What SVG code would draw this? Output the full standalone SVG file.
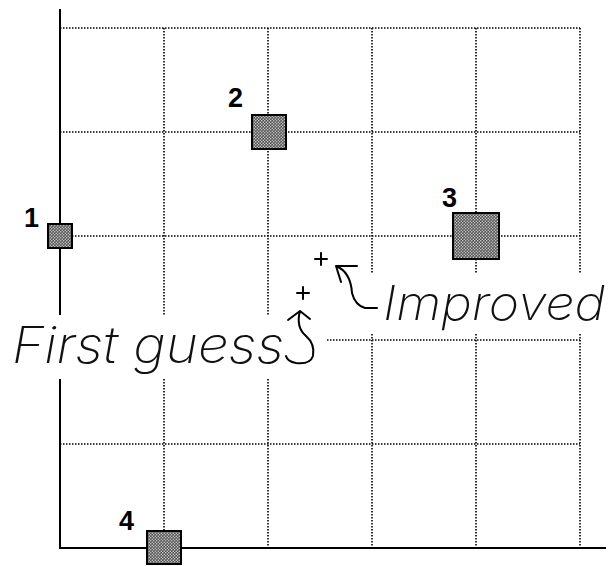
<svg xmlns="http://www.w3.org/2000/svg" width="608" height="566" viewBox="0 0 608 566">
<style>
.grid{stroke:#000;stroke-width:1.6;stroke-dasharray:1.5 1.5;fill:none}
.axis{stroke:#000;stroke-width:2;fill:none}
.pt{fill:url(#dots);stroke:#000;stroke-width:2}
.num{font-family:"Liberation Sans",Arial,sans-serif;font-weight:bold;font-size:27px;fill:#000}
.lbl{font-family:Inter,"Liberation Sans",sans-serif;font-weight:200;font-style:italic;fill:#111}
.arr{stroke:#000;stroke-width:2;fill:none;stroke-linecap:round;stroke-linejoin:round}
.mask{fill:#fff}
</style>
<defs>
<pattern id="dots" width="3" height="3" patternUnits="userSpaceOnUse">
<rect width="3" height="3" fill="#555"/>
<circle cx="0.75" cy="0.75" r="0.7" fill="#ddd"/>
<circle cx="2.25" cy="2.25" r="0.7" fill="#ddd"/>
</pattern>
</defs>
<rect width="608" height="566" fill="#fff"/>
<g id="grid">
<path class="grid" d="M60 28H580M60 132H580M60 236H580M60 340H580M60 444H580"/>
<path class="grid" d="M164 28V548M268 28V548M372 28V548M476 28V548M580 28V548"/>
</g>
<g id="axes">
<path class="axis" d="M60 9V548H606"/>
</g>
<g id="label-masks">
<rect class="mask" x="0" y="315" width="327" height="64"/>
<rect class="mask" x="330" y="273" width="278" height="60"/>
</g>
<g id="node1"><rect class="pt" x="48" y="224" width="24" height="24"/><text class="num" x="24" y="227">1</text></g>
<g id="node2"><rect class="pt" x="252" y="115" width="34" height="34"/><text class="num" x="228" y="107">2</text></g>
<g id="node3"><rect class="pt" x="453" y="213" width="46" height="46"/><text class="num" x="442" y="207">3</text></g>
<g id="node4"><rect class="pt" x="147" y="531" width="34" height="33"/><text class="num" x="119" y="530">4</text></g>
<g id="guesses">
<path class="arr" stroke-width="1.8" d="M315 259H327M321 253V265"/>
<path class="arr" stroke-width="1.8" d="M297 293H309M303 287V299"/>
</g>
<g id="connectors">
<path class="arr" d="M336 266H357M336 266L341 282M336 266C346 270 351 278 352 293C354 301 358 306 365 308H377"/>
<path class="arr" d="M300 311L288 320M300 311L310 319M300 311C297 322 299 330 306 336C313 342 314 350 313 356C311 362 305 364 296 363C290 362 287 360 286 356"/>
</g>
<g id="labels">
<text class="lbl" x="12" y="363" font-size="50" textLength="272" lengthAdjust="spacingAndGlyphs">First guess</text>
<text class="lbl" x="383" y="320" font-size="48" textLength="222" lengthAdjust="spacingAndGlyphs">Improved</text>
</g>
</svg>
